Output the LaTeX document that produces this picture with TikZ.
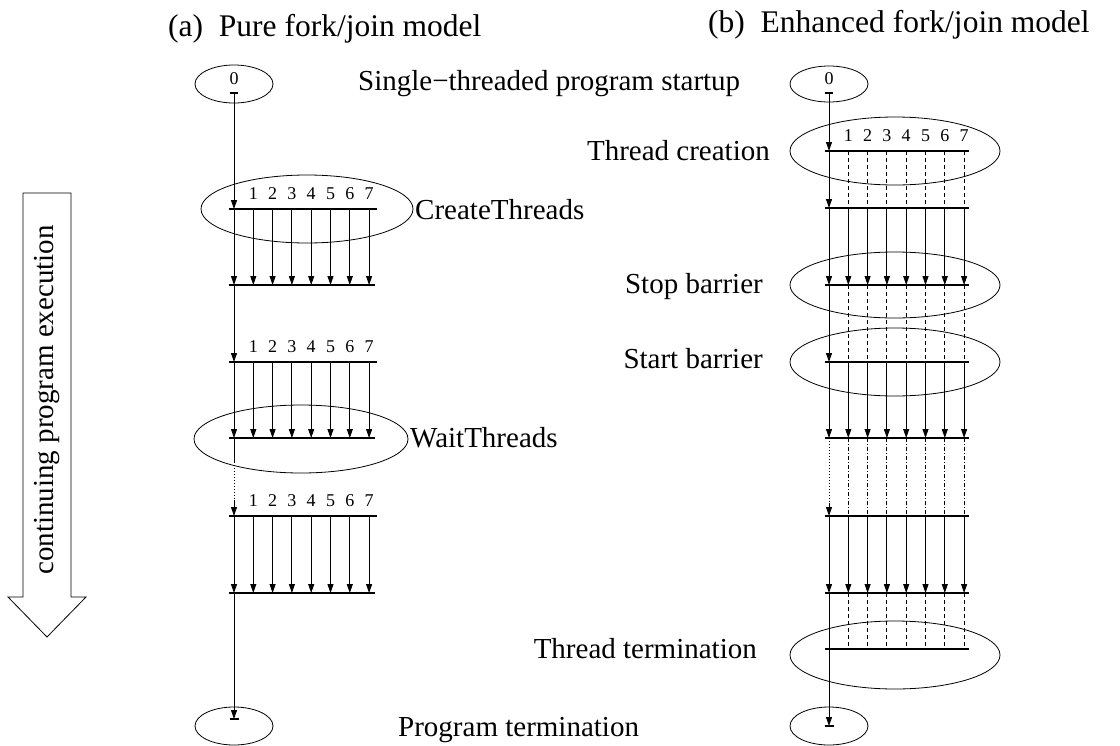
\documentclass[tikz,border=0pt]{standalone}
\usepackage{fontspec}
\setmainfont{Liberation Serif}
\usetikzlibrary{shapes.geometric,arrows.meta}
\begin{document}
\begin{tikzpicture}[x=1pt,y=-1pt,
  lab/.style={font=\fontsize{29}{33}\selectfont, inner sep=0pt},
  ttl/.style={font=\fontsize{31.5}{36}\selectfont, inner sep=0pt, anchor=base west},
  num/.style={font=\fontsize{18}{20}\selectfont, inner sep=0pt, anchor=base},
  barline/.style={line width=2pt},
  thr/.style={line width=0.9pt},
  arr/.style={thr,-{Triangle[length=9pt,width=6pt]}},
  dsh/.style={thr,dash pattern=on 4pt off 3pt},
  ddot/.style={thr,dash pattern=on 4pt off 2pt on 1pt off 2pt},
  dotl/.style={thr,dash pattern=on 1pt off 2pt},
  ell/.style={draw, ellipse, line width=0.8pt, inner sep=0pt}]
\useasboundingbox (0,0) rectangle (1120,745);

% titles
\node[ttl] (ta) at (168,36) {(a)\ \ Pure fork/join model};
\node[ttl] (tb) at (708,32) {(b)\ \ Enhanced fork/join model};

% big arrow
\draw[line width=0.8pt] (23,193) -- (71,193) -- (71,597) -- (86,597) -- (47,637) -- (8,597) -- (23,597) -- cycle;
\node[lab, rotate=90] (cont) at (47,400) {continuing program execution};

% ---------------- left panel ----------------
\node[ell, minimum width=78pt, minimum height=38pt] (a0) at (234,84) {};
\node[num] (a0n) at (234,84) {0};
\node[ell, minimum width=212pt, minimum height=68pt] (aCT) at (307,209) {};
\node[ell, minimum width=214pt, minimum height=68pt] (aWT) at (301,439) {};
\node[ell, minimum width=78pt, minimum height=38pt] (aE) at (234,726) {};

\node[lab, anchor=base west] (lstart) at (358,90) {Single−threaded program startup};
\node[lab, anchor=base west] (lct) at (415,219) {CreateThreads};
\node[lab, anchor=base west] (lwt) at (410,447) {WaitThreads};
\node[lab, anchor=base west] (lpt) at (398,736) {Program termination};

\foreach \ya/\yb/\g in {209/285/1, 362/438/2, 516/593/3} {
  \coordinate (aT\g) at (229,\ya); \coordinate (aTe\g) at (377,\ya);
  \coordinate (aB\g) at (229,\yb); \coordinate (aBe\g) at (375,\yb);
  \draw[barline] (aT\g) -- (aTe\g);
  \draw[barline] (aB\g) -- (aBe\g);
  \foreach \i in {1,...,7} {
    \pgfmathsetmacro\xx{234+19.3*\i}
    \coordinate (aT\g t\i) at (\xx,\ya);
    \coordinate (aB\g t\i) at (\xx,\yb);
    \draw[arr] (aT\g t\i) -- (aB\g t\i);
    \node[num] (aN\g n\i) at (\xx,\ya-10) {\i};
  }
}
% main line left
\coordinate (aS) at (234,93);
\coordinate (aM1) at (234,209);
\coordinate (aM2) at (234,285);
\coordinate (aM3) at (234,362);
\coordinate (aM4) at (234,438);
\coordinate (aD1) at (234,462);
\coordinate (aD2) at (234,500);
\coordinate (aM5) at (234,516);
\coordinate (aM6) at (234,593);
\coordinate (aF) at (234,719);
\draw[barline] (230,93) -- (238,93);
\draw[barline] (229.5,719) -- (238.5,719);
\draw[arr] (aS) -- (aM1);
\draw[arr] (aM1) -- (aM2);
\draw[arr] (aM2) -- (aM3);
\draw[arr] (aM3) -- (aM4);
\draw[thr] (aM4) -- (aD1);
\draw[dotl] (aD1) -- (aD2);
\draw[arr] (aD2) -- (aM5);
\draw[arr] (aM5) -- (aM6);
\draw[arr] (aM6) -- (aF);

% ---------------- right panel ----------------
\node[ell, minimum width=78pt, minimum height=36pt] (b0) at (829,84) {};
\node[num] (b0n) at (829,84) {0};
\node[ell, minimum width=210pt, minimum height=68pt] (bTC) at (895,151) {};
\node[ell, minimum width=210pt, minimum height=66pt] (bSB) at (895,285) {};
\node[ell, minimum width=210pt, minimum height=68pt] (bST) at (895,362) {};
\node[ell, minimum width=210pt, minimum height=68pt] (bTT) at (895,655) {};
\node[ell, minimum width=78pt, minimum height=38pt] (bE) at (829,726) {};

\node[lab, anchor=base east] (ltc) at (770,160) {Thread creation};
\node[lab, anchor=base east] (lsb) at (763,293) {Stop barrier};
\node[lab, anchor=base east] (lsa) at (763,368) {Start barrier};
\node[lab, anchor=base east] (ltt) at (757,658) {Thread termination};

\foreach \y/\k in {151/1,208/2,285/3,362/4,438/5,516/6,593/7,649/8} {
  \coordinate (bL\k) at (825,\y); \coordinate (bR\k) at (969,\y);
  \draw[barline] (bL\k) -- (bR\k);
  \foreach \i in {1,...,7} {
    \pgfmathsetmacro\xx{829+19.3*\i}
    \coordinate (b\k t\i) at (\xx,\y);
  }
}
\foreach \i in {1,...,7} {
  \pgfmathsetmacro\xx{829+19.3*\i}
  \node[num] (bN\i) at (\xx,141) {\i};
  \draw[dsh] (b1t\i) -- (b2t\i);
  \draw[arr] (b2t\i) -- (b3t\i);
  \draw[dsh] (b3t\i) -- (b4t\i);
  \draw[arr] (b4t\i) -- (b5t\i);
  \draw[ddot] (b5t\i) -- (b6t\i);
  \draw[arr] (b6t\i) -- (b7t\i);
  \draw[dsh] (b7t\i) -- (b8t\i);
}
% main line right
\coordinate (bS) at (829,93);
\coordinate (bM1) at (829,151);
\coordinate (bM2) at (829,208);
\coordinate (bM3) at (829,285);
\coordinate (bM4) at (829,362);
\coordinate (bM5) at (829,438);
\coordinate (bD1) at (829,441);
\coordinate (bD2) at (829,503);
\coordinate (bM6) at (829,516);
\coordinate (bM7) at (829,593);
\coordinate (bF) at (829,726);
\draw[barline] (825,93) -- (833,93);
\draw[barline] (824.5,726) -- (833.5,726);
\draw[arr] (bS) -- (bM1);
\draw[arr] (bM1) -- (bM2);
\draw[arr] (bM2) -- (bM3);
\draw[arr] (bM3) -- (bM4);
\draw[arr] (bM4) -- (bM5);
\draw[dotl] (bD1) -- (bD2);
\draw[arr] (bD2) -- (bM6);
\draw[arr] (bM6) -- (bM7);
\draw[arr] (bM7) -- (bF);
\end{tikzpicture}
\end{document}
